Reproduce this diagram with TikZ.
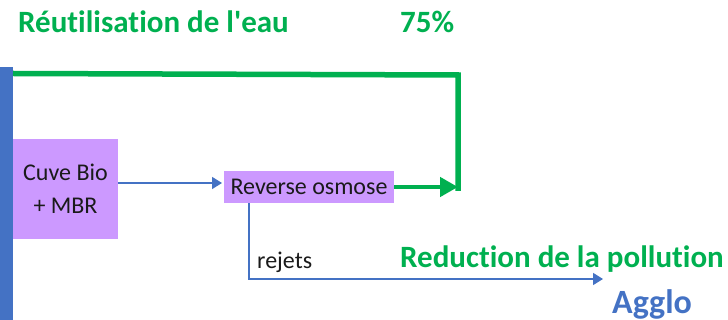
\documentclass[tikz,border=0pt]{standalone}
\usepackage{fontspec}
\setmainfont{Carlito}[Ligatures={TeXOff,NoCommon}]
\usetikzlibrary{arrows.meta}
\definecolor{vgreen}{HTML}{00B050}
\definecolor{vblue}{HTML}{4472C4}
\definecolor{vpurple}{HTML}{CC99FF}
\definecolor{vtext}{HTML}{1A1A1A}
\tikzset{
  procbox/.style={fill=vpurple, draw=none, inner sep=0pt, text=vtext, font=\fontsize{24}{33}\selectfont},
  bigtitle/.style={font=\fontsize{31}{36}\selectfont\bfseries, inner sep=0pt, anchor=base west},
  smalllabel/.style={font=\fontsize{24}{29}\selectfont, text=vtext, inner sep=0pt, anchor=base west},
  blueflow/.style={draw=vblue, line width=1.6pt},
  greenflow/.style={draw=vgreen, line width=5.5pt},
}
\begin{document}
\begin{tikzpicture}[x=1pt,y=-1pt]
\useasboundingbox (0,0) rectangle (728,320);
% left bar
\fill[vblue] (0,67) rectangle (13,320);
% titles
\node[bigtitle, text=vgreen] (t1) at (18,32.5) {Réutilisation de l'eau};
\node[bigtitle, text=vgreen] (t2) at (400,32.5) {75\%};
% boxes
\node[procbox, minimum width=105pt, minimum height=100pt, align=center] (cuve) at (65.5,189) {Cuve Bio\\+ MBR};
\node[procbox, minimum width=170pt, minimum height=32pt] (ro) at (309,187) {Reverse osmose};
% green recycling line
\coordinate (gs) at (13,73.5);
\coordinate (gc) at (458,75);
\coordinate (ge) at (458,191);
\draw[greenflow, line join=miter] (gs) -- (gc) -- (ge);
\draw[greenflow, -{Triangle[length=18pt,width=19pt]}, line width=4.5pt] (ro.east) -- (ro.east -| ge);
% blue arrow
\draw[blueflow, -{Triangle[length=10pt,width=12pt]}] (cuve.east |- 0,183) -- (222,183) coordinate (bt);
% rejets
\coordinate (rc) at (249,279);
\coordinate (rt) at (603,279);
\draw[blueflow, -{Triangle[length=10pt,width=12pt]}] (ro.south -| rc) -- (rc) -- (rt);
\node[smalllabel] (rej) at (257,269) {rejets};
\node[bigtitle, text=vgreen] (red) at (400,268) {Reduction de la pollution};
\node[bigtitle, text=vblue, font=\fontsize{34}{40}\selectfont\bfseries] (agg) at (612,313) {Agglo};
\end{tikzpicture}
\end{document}
